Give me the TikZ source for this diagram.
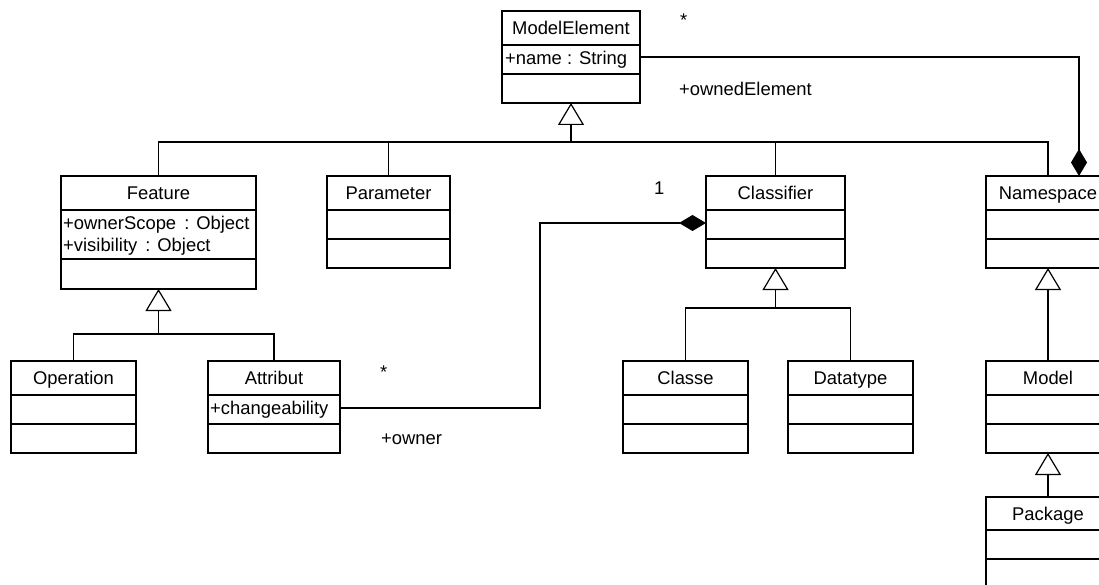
\documentclass[tikz,border=0pt]{standalone}
\usepackage{fontspec}
\setmainfont{Liberation Sans}
\usetikzlibrary{arrows.meta}
\begin{document}
\begin{tikzpicture}[x=1pt,y=-1pt,
  umlbox/.style={draw, line width=1.5pt, anchor=north west, inner sep=0pt, outer sep=0pt},
  divider/.style={line width=1.5pt},
  ttl/.style={anchor=base, inner sep=0pt, font=\fontsize{18.4}{21}\selectfont},
  attr/.style={anchor=base west, inner sep=0pt, font=\fontsize{18.4}{21}\selectfont},
  lbl/.style={anchor=west, inner sep=0pt, font=\fontsize{18.4}{21}\selectfont},
  conn/.style={line width=1.2pt},
  gen/.style={conn, -{Triangle[open, width=26pt, length=22pt, fill=white]}},
  comp/.style={conn, -{Diamond[width=16pt, length=27pt]}}
]
\useasboundingbox (0,0) rectangle (1099,585);
\clip (0,0) rectangle (1099,585);
\fill[white] (0,0) rectangle (1099,585);

% ModelElement
\node[umlbox, minimum width=138pt, minimum height=92pt] (me) at (502,11) {};
\draw[divider] ([yshift=-34pt]me.north west) -- ([yshift=-34pt]me.north east);
\draw[divider] ([yshift=-63pt]me.north west) -- ([yshift=-63pt]me.north east);
\node[ttl] (met) at ([yshift=-23.5pt]me.north) {ModelElement};
\node[attr] (mea) at ([xshift=3pt,yshift=-53.5pt]me.north west) {+name : String};

% Feature
\node[umlbox, minimum width=195pt, minimum height=113pt] (fe) at (61,176) {};
\draw[divider] ([yshift=-34pt]fe.north west) -- ([yshift=-34pt]fe.north east);
\draw[divider] ([yshift=-83pt]fe.north west) -- ([yshift=-83pt]fe.north east);
\node[ttl] (fet) at ([yshift=-23.5pt]fe.north) {Feature};
\node[attr] (fea1) at ([xshift=2pt,yshift=-53.5pt]fe.north west) {+ownerScope\, : Object};
\node[attr] (fea2) at ([xshift=2pt,yshift=-75.5pt]fe.north west) {+visibility\, : Object};

% Parameter
\node[umlbox, minimum width=123pt, minimum height=92pt] (pa) at (327,176) {};
\draw[divider] ([yshift=-34pt]pa.north west) -- ([yshift=-34pt]pa.north east);
\draw[divider] ([yshift=-63pt]pa.north west) -- ([yshift=-63pt]pa.north east);
\node[ttl] (pat) at ([yshift=-23.5pt]pa.north) {Parameter};

% Classifier
\node[umlbox, minimum width=139pt, minimum height=92pt] (cl) at (706,176) {};
\draw[divider] ([yshift=-34pt]cl.north west) -- ([yshift=-34pt]cl.north east);
\draw[divider] ([yshift=-63pt]cl.north west) -- ([yshift=-63pt]cl.north east);
\node[ttl] (clt) at ([yshift=-23.5pt]cl.north) {Classifier};

% Namespace
\node[umlbox, minimum width=124pt, minimum height=92pt] (ns) at (986,176) {};
\draw[divider] ([yshift=-34pt]ns.north west) -- ([yshift=-34pt]ns.north east);
\draw[divider] ([yshift=-63pt]ns.north west) -- ([yshift=-63pt]ns.north east);
\node[ttl] (nst) at ([yshift=-23.5pt]ns.north) {Namespace};

% Operation
\node[umlbox, minimum width=125pt, minimum height=92pt] (op) at (11,361) {};
\draw[divider] ([yshift=-34pt]op.north west) -- ([yshift=-34pt]op.north east);
\draw[divider] ([yshift=-63pt]op.north west) -- ([yshift=-63pt]op.north east);
\node[ttl] (opt) at ([yshift=-23.5pt]op.north) {Operation};

% Attribut
\node[umlbox, minimum width=132pt, minimum height=92pt] (at) at (208,361) {};
\draw[divider] ([yshift=-34pt]at.north west) -- ([yshift=-34pt]at.north east);
\draw[divider] ([yshift=-63pt]at.north west) -- ([yshift=-63pt]at.north east);
\node[ttl] (att) at ([yshift=-23.5pt]at.north) {Attribut};
\node[attr] (ata) at ([xshift=2pt,yshift=-53.5pt]at.north west) {+changeability};

% Classe
\node[umlbox, minimum width=125pt, minimum height=92pt] (cs) at (623,361) {};
\draw[divider] ([yshift=-34pt]cs.north west) -- ([yshift=-34pt]cs.north east);
\draw[divider] ([yshift=-63pt]cs.north west) -- ([yshift=-63pt]cs.north east);
\node[ttl] (cst) at ([yshift=-23.5pt]cs.north) {Classe};

% Datatype
\node[umlbox, minimum width=125pt, minimum height=92pt] (dt) at (788,361) {};
\draw[divider] ([yshift=-34pt]dt.north west) -- ([yshift=-34pt]dt.north east);
\draw[divider] ([yshift=-63pt]dt.north west) -- ([yshift=-63pt]dt.north east);
\node[ttl] (dtt) at ([yshift=-23.5pt]dt.north) {Datatype};

% Model
\node[umlbox, minimum width=124pt, minimum height=92pt] (mo) at (986,361) {};
\draw[divider] ([yshift=-34pt]mo.north west) -- ([yshift=-34pt]mo.north east);
\draw[divider] ([yshift=-63pt]mo.north west) -- ([yshift=-63pt]mo.north east);
\node[ttl] (mot) at ([yshift=-23.5pt]mo.north) {Model};

% Package
\node[umlbox, minimum width=124pt, minimum height=120pt] (pk) at (986,497) {};
\draw[divider] ([yshift=-33pt]pk.north west) -- ([yshift=-33pt]pk.north east);
\draw[divider] ([yshift=-62pt]pk.north west) -- ([yshift=-62pt]pk.north east);
\node[ttl] (pkt) at ([yshift=-23.5pt]pk.north) {Package};

% generalization to ModelElement
\coordinate (bus) at (571,142);
\draw[conn] (fe.north) |- (bus);
\draw[conn] (pa.north) |- (bus);
\draw[conn] (cl.north) |- (bus);
\draw[conn] (ns.north) |- (bus);
\draw[gen] (bus) -- (me.south);

% generalization to Feature
\coordinate (fbus) at (158.5,334);
\draw[conn] (op.north) |- (fbus);
\draw[conn] (at.north) |- (fbus);
\draw[gen] (fbus) -- (fe.south);

% generalization to Classifier
\coordinate (cbus) at (775.5,308);
\draw[conn] (cs.north) |- (cbus);
\draw[conn] (dt.north) |- (cbus);
\draw[gen] (cbus) -- (cl.south);

% generalization Model -> Namespace, Package -> Model
\draw[gen] (mo.north) -- (ns.south);
\draw[gen] (pk.north) -- (mo.south);

% composition Attribut -> Classifier
\coordinate (atp) at ([yshift=-47pt]at.north east);
\coordinate (k1) at (540,223);
\coordinate (clp) at ([yshift=-47pt]cl.north west);
\draw[comp] (atp) -| (k1) -- (clp);

% composition ModelElement -> Namespace
\coordinate (mep) at ([yshift=-46pt]me.north east);
\coordinate (nsp) at ([xshift=31pt]ns.north);
\draw[comp] (mep) -| (nsp);

% labels
\node[lbl] (l1) at (680,20) {*};
\node[lbl] (l2) at (679,89) {+ownedElement};
\node[lbl] (l3) at (654,188) {1};
\node[lbl] (l4) at (380,372) {*};
\node[lbl] (l5) at (381,439) {+owner};
\end{tikzpicture}
\end{document}
